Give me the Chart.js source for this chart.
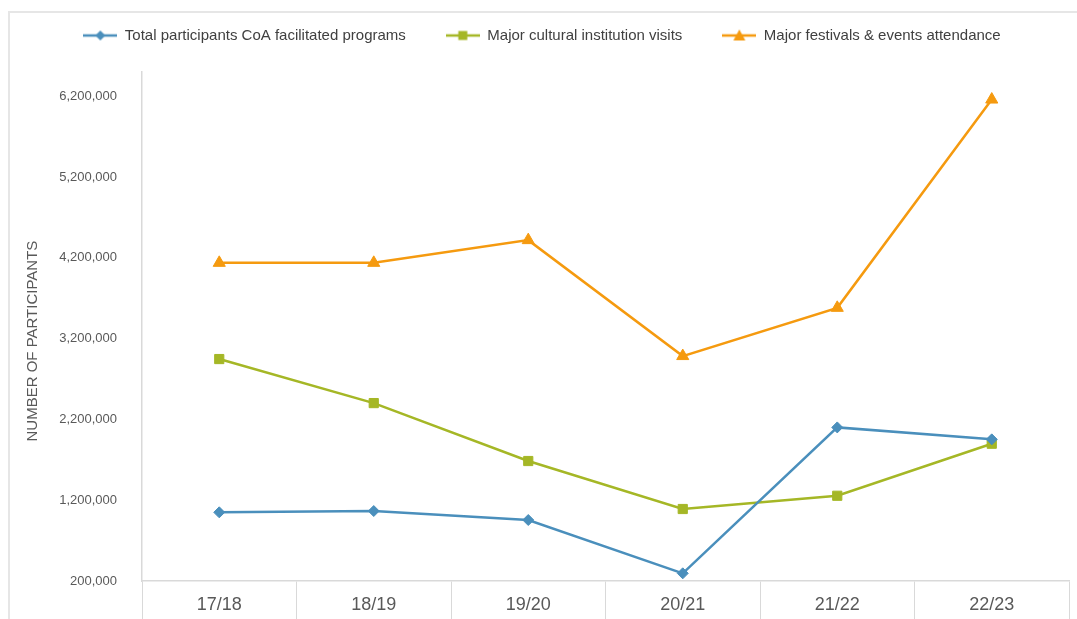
<!DOCTYPE html>
<html>
<head>
<meta charset="utf-8">
<script src="https://cdn.jsdelivr.net/npm/chart.js@4.4.1/dist/chart.umd.min.js"></script>
<style>
  html, body { margin: 0; padding: 0; background: #fff; overflow: hidden; }
  .box { position: absolute; left: 8px; top: 11px; width: 1200px; height: 700px;
         border-left: 2px solid #e6e6e6; border-top: 2px solid #e6e6e6; }
  .wrap { position: absolute; left: 0; top: 0; width: 1077px; height: 640px; }
</style>
</head>
<body>
<div class="box"></div>
<div class="wrap"><canvas id="grafico"></canvas></div>
<script>
const anos = ['17/18', '18/19', '19/20', '20/21', '21/22', '22/23'];
const participantesCoA = [1050000, 1066000, 955000, 295000, 2101000, 1953000];
const visitasInstituicoes = [2947000, 2402000, 1685000, 1091000, 1255000, 1899000];
const festivaisEventos = [4138000, 4138000, 4419000, 2984000, 3581000, 6159000];
const marcasY = [200000, 1200000, 2200000, 3200000, 4200000, 5200000, 6200000];

const azul = '#4a8fbc';
const verde = '#a5b726';
const laranja = '#f59a0f';

// desenha o simbolo da legenda: linha com o marcador no meio
function simbolo(cor, tipo) {
    const c = document.createElement('canvas');
    c.width = 34; c.height = 16;
    const g = c.getContext('2d');
    g.strokeStyle = cor; g.fillStyle = cor; g.lineWidth = 2.5;
    g.beginPath(); g.moveTo(0, 8); g.lineTo(34, 8); g.stroke();
    g.beginPath();
    if (tipo === 'diamond') {
        g.moveTo(17, 3); g.lineTo(22, 8); g.lineTo(17, 13); g.lineTo(12, 8);
    } else if (tipo === 'square') {
        g.rect(12.5, 3.5, 9, 9);
    } else {
        g.moveTo(17, 2); g.lineTo(23, 13); g.lineTo(11, 13);
    }
    g.closePath(); g.fill();
    return c;
}
const simbolos = [simbolo(azul, 'diamond'), simbolo(verde, 'square'), simbolo(laranja, 'triangle')];

const alturaLegenda = {
    id: 'alturaLegenda',
    beforeInit(chart) {
        const fitOriginal = chart.legend.fit;
        chart.legend.fit = function () {
            fitOriginal.bind(chart.legend)();
            this.height = 84;
        };
    }
};

const formatar = v => v.toLocaleString('en-US');

new Chart(document.getElementById('grafico'), {
    type: 'line',
    data: {
        labels: anos,
        datasets: [
            {
                label: 'Total participants CoA facilitated programs',
                data: participantesCoA,
                borderColor: azul,
                backgroundColor: azul,
                borderWidth: 2.5,
                pointStyle: 'rectRot',
                pointRadius: 5.5,
                pointBorderWidth: 1,
                tension: 0
            },
            {
                label: 'Major cultural institution visits',
                data: visitasInstituicoes,
                borderColor: verde,
                backgroundColor: verde,
                borderWidth: 2.5,
                pointStyle: 'rect',
                pointRadius: 6.5,
                pointBorderWidth: 1,
                tension: 0
            },
            {
                label: 'Major festivals & events attendance',
                data: festivaisEventos,
                borderColor: laranja,
                backgroundColor: laranja,
                borderWidth: 2.5,
                pointStyle: 'triangle',
                pointRadius: 7,
                pointBorderWidth: 1,
                tension: 0
            }
        ]
    },
    options: {
        responsive: true,
        maintainAspectRatio: false,
        animation: false,
        layout: { padding: { top: -12, left: 14, right: 7, bottom: 0 } },
        plugins: {
            tooltip: { enabled: false },
            legend: {
                position: 'top',
                labels: {
                    usePointStyle: true,
                    pointStyleWidth: 34,
                    padding: 40,
                    color: '#404040',
                    font: { family: 'Liberation Sans', size: 15 },
                    generateLabels: chart => chart.data.datasets.map((ds, i) => ({
                        text: ds.label,
                        pointStyle: simbolos[i],
                        fillStyle: ds.borderColor,
                        strokeStyle: ds.borderColor,
                        lineWidth: 0,
                        fontColor: '#404040',
                        datasetIndex: i,
                        hidden: false
                    }))
                }
            }
        },
        scales: {
            x: {
                offset: true,
                grid: {
                    offset: true,
                    drawOnChartArea: false,
                    drawTicks: true,
                    tickLength: 40,
                    color: '#d9d9d9',
                    lineWidth: 1
                },
                border: { display: true, color: '#d9d9d9', width: 1.5 },
                ticks: {
                    color: '#595959',
                    padding: -27,
                    font: { family: 'Liberation Sans', size: 18 }
                },
                afterFit: scale => { scale.height = 59; }
            },
            y: {
                min: 200000,
                max: 6500000,
                grid: { display: false, drawTicks: false },
                border: { display: true, color: '#d9d9d9', width: 1.5 },
                afterBuildTicks: scale => { scale.ticks = marcasY.map(v => ({ value: v })); },
                afterFit: scale => { scale.width = 128; },
                ticks: {
                    color: '#595959',
                    padding: 25,
                    font: { family: 'Liberation Sans', size: 13 },
                    callback: v => formatar(v)
                },
                title: {
                    display: true,
                    // espacos no fim descem o titulo, como no original
                    text: 'NUMBER OF PARTICIPANTS       ',
                    color: '#595959',
                    padding: { top: 10, bottom: 0 },
                    font: { family: 'Liberation Sans', size: 15 }
                }
            }
        }
    },
    plugins: [alturaLegenda]
});
</script>
</body>
</html>
